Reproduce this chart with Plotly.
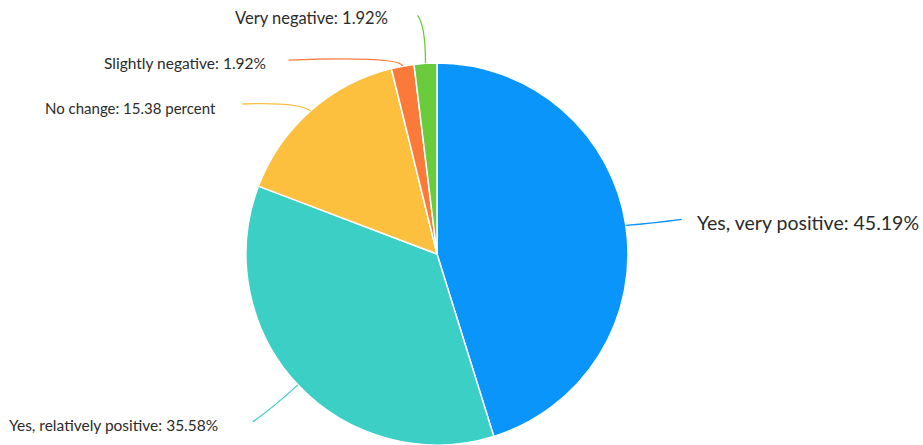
import math
import plotly.graph_objects as go

labels = ["Yes, very positive", "Yes, relatively positive", "No change",
          "Slightly negative", "Very negative"]
values = [45.19, 35.58, 15.38, 1.92, 1.92]
label_texts = ["Yes, very positive: 45.19%", "Yes, relatively positive: 35.58%",
               "No change: 15.38 percent", "Slightly negative: 1.92%",
               "Very negative: 1.92%"]
colors = ["#0a95fb", "#3ccfc6", "#fcbf3e", "#fb7a3a", "#6acb3c"]

W, H = 923, 445
CX, CY, R = 437, 254, 191

# style: per-label leader geometry (control offset, end offset, label offset) in px
leader_style = [
    dict(elbow=(26, -2), end=(56, -6), lab=(69, -3), anchor="left", size=19.5),
    dict(elbow=(-24, 22), end=(-45, 37), lab=(-78, 40), anchor="right", size=15.5),
    dict(elbow=(-10, -9), end=(-68, -7), lab=(-92, -3), anchor="right", size=15),
    dict(elbow=(-3, -10), end=(-114, -6), lab=(-135, -3), anchor="right", size=15.5),
    dict(elbow=(0, -38), end=(-8, -48), lab=(-35, -45), anchor="right", size=16.5),
]

def px(x):
    return x / W

def py(y):
    return 1 - y / H

fig = go.Figure(go.Pie(
    labels=labels, values=values, sort=False, direction="clockwise", rotation=0,
    marker=dict(colors=colors, line=dict(color="white", width=1.5)),
    textinfo="none", hoverinfo="label+percent",
    domain=dict(x=[(CX - R) / W, (CX + R) / W], y=[(H - CY - R) / H, (H - CY + R) / H]),
    showlegend=False,
))

total = sum(values)
cum = 0
shapes, annotations = [], []
for i, v in enumerate(values):
    mid = (cum + v / 2) / total * 2 * math.pi
    cum += v
    ex = CX + R * math.sin(mid)
    ey = CY - R * math.cos(mid)
    st = leader_style[i]
    bx, by = ex + st["elbow"][0], ey + st["elbow"][1]
    tx, ty = ex + st["end"][0], ey + st["end"][1]
    path = f"M {px(ex)},{py(ey)} Q {px(bx)},{py(by)} {px(tx)},{py(ty)}"
    shapes.append(dict(type="path", xref="paper", yref="paper", path=path,
                       line=dict(color=colors[i], width=1.3)))
    lx, ly = ex + st["lab"][0], ey + st["lab"][1]
    annotations.append(dict(x=px(lx), y=py(ly), xref="paper", yref="paper",
                            text=label_texts[i], showarrow=False,
                            xanchor=st["anchor"], yanchor="middle",
                            font=dict(family="Lato", size=st["size"], color="#2b2b2b")))

fig.update_layout(
    width=W, height=H, margin=dict(l=0, r=0, t=0, b=0),
    paper_bgcolor="white", plot_bgcolor="white",
    shapes=shapes, annotations=annotations,
)
fig.write_html("out.html", config={"displayModeBar": False},
               post_script="document.body.style.margin='0';")
